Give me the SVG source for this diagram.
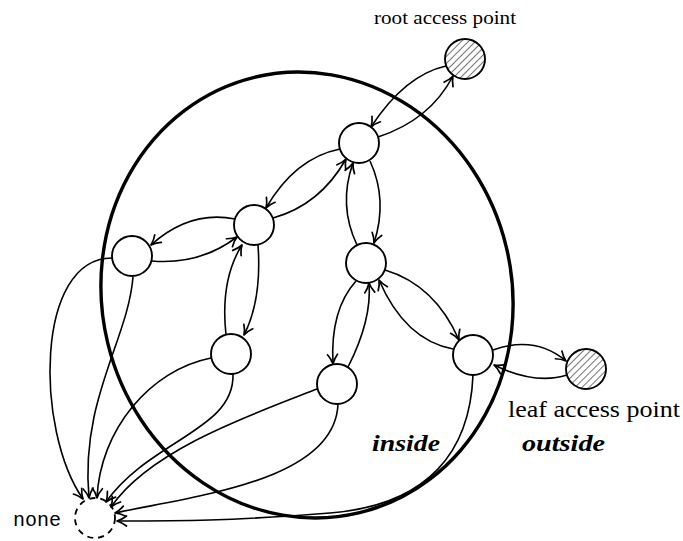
<svg xmlns="http://www.w3.org/2000/svg" width="683" height="541" viewBox="0 0 683 541">
<style>
.edge{fill:none;stroke:#000;stroke-width:1.6;marker-end:url(#arr)}
.node{fill:#fff;stroke:#000;stroke-width:1.9}
.ap{fill:url(#hatch);stroke:#000;stroke-width:1.9}
.lbl{font-family:"Liberation Serif",serif;fill:#000}
.em{font-family:"Liberation Serif",serif;font-weight:bold;font-style:italic;fill:#000}
</style>
<defs>
<marker id="arr" markerUnits="userSpaceOnUse" viewBox="-12 -7 14 14" markerWidth="14" markerHeight="14" refX="0" refY="0" orient="auto">
<path d="M-9.5,-5 C-6,-2.2 -2,-0.6 0,0 C-2,0.6 -6,2.2 -9.5,5" fill="none" stroke="#000" stroke-width="1.7" stroke-linecap="round" stroke-linejoin="round"/>
</marker>
<pattern id="hatch" patternUnits="userSpaceOnUse" width="5" height="5" patternTransform="rotate(45)">
<rect width="5" height="5" fill="#fff"/>
<line x1="0" y1="0" x2="0" y2="5" stroke="#000" stroke-width="1.1"/>
</pattern>
</defs>
<ellipse id="region" cx="307" cy="295" rx="205" ry="224" transform="rotate(-13.6 307 295)" fill="none" stroke="#000" stroke-width="3.4"/>
<g id="connectors">
<path class="edge" d="M446,66 Q405,75 371,127"/>
<path class="edge" d="M378,137 Q430,120 453,76"/>
<path class="edge" d="M340,149 Q295,158 266,208"/>
<path class="edge" d="M273,218 Q320,205 346,159"/>
<path class="edge" d="M370,161 Q388,200 374,243"/>
<path class="edge" d="M357,245 Q338,205 353,163"/>
<path class="edge" d="M235,219 Q190,210 151,245"/>
<path class="edge" d="M152,261 Q200,265 237,237"/>
<path class="edge" d="M258,245 Q262,300 244,335"/>
<path class="edge" d="M226,335 Q220,280 242,245"/>
<path class="edge" d="M356,281 Q330,310 333,364"/>
<path class="edge" d="M348,367 Q372,320 369,283"/>
<path class="edge" d="M385,270 Q435,285 459,340"/>
<path class="edge" d="M453,349 Q405,340 379,280"/>
<path class="edge" d="M493,350 Q535,335 566,361"/>
<path class="edge" d="M567,375 Q535,385 494,365"/>
<path class="edge" d="M112,258 C35,258 35,430 83,499"/>
<path class="edge" d="M133,277 C128,340 80,400 89,498"/>
<path class="edge" d="M211,358 C150,370 100,430 97,498"/>
<path class="edge" d="M233,374 C235,430 150,440 106,502"/>
<path class="edge" d="M317,389 C250,415 150,450 111,507"/>
<path class="edge" d="M338,404 C335,480 200,495 115,513"/>
<path class="edge" d="M473,375 C470,450 430,505 330,513 S180,521 117,521"/>
</g>
<g id="root-ap"><circle class="ap" cx="465" cy="59" r="20"/></g>
<g id="node-a"><circle class="node" cx="359" cy="143" r="20"/></g>
<g id="node-b"><circle class="node" cx="254" cy="225" r="20"/></g>
<g id="node-c"><circle class="node" cx="132" cy="256" r="20"/></g>
<g id="node-d"><circle class="node" cx="366" cy="263" r="20"/></g>
<g id="node-e"><circle class="node" cx="231" cy="354" r="20"/></g>
<g id="node-f"><circle class="node" cx="337" cy="384" r="20"/></g>
<g id="node-g"><circle class="node" cx="473" cy="355" r="20"/></g>
<g id="leaf-ap"><circle class="ap" cx="586" cy="369" r="20"/></g>
<g id="none"><circle cx="95" cy="518" r="20" fill="none" stroke="#000" stroke-width="1.8" stroke-dasharray="6 5"/>
<text x="13" y="526" font-family="'Liberation Mono',monospace" font-size="20">none</text></g>
<g id="labels">
<text class="lbl" x="374" y="24" font-size="19" textLength="142" lengthAdjust="spacingAndGlyphs">root access point</text>
<text class="lbl" x="508" y="417" font-size="24" textLength="172" lengthAdjust="spacingAndGlyphs">leaf access point</text>
<text class="em" x="372" y="451" font-size="23" textLength="68" lengthAdjust="spacingAndGlyphs">inside</text>
<text class="em" x="522" y="451" font-size="23" textLength="83" lengthAdjust="spacingAndGlyphs">outside</text>
</g>
</svg>
